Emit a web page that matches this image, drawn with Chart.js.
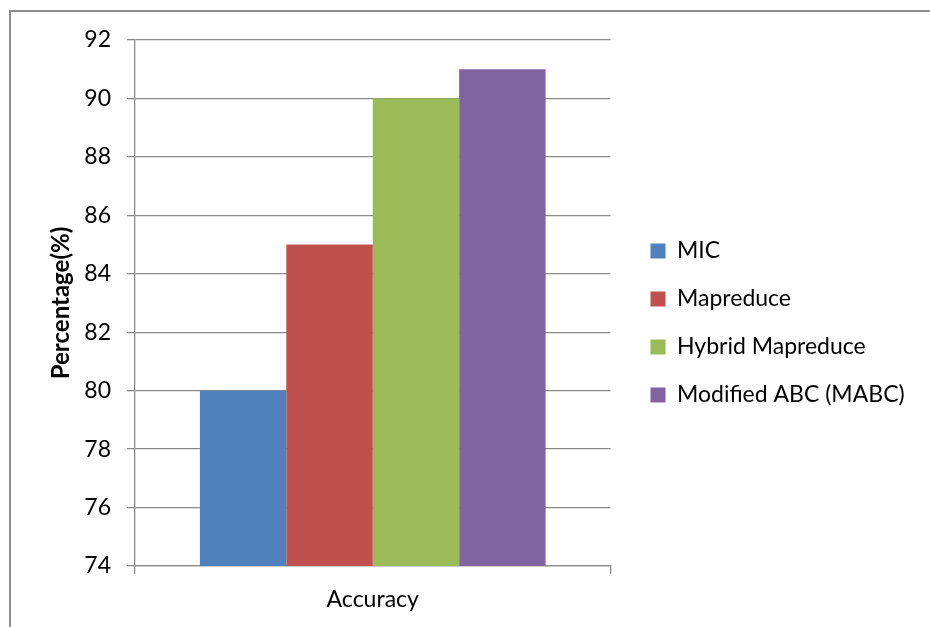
<!DOCTYPE html>
<html>
<head>
<meta charset="utf-8">
<script src="https://cdn.jsdelivr.net/npm/chart.js@4/dist/chart.umd.min.js"></script>
<style>
  html, body { margin: 0; padding: 0; background: #fff; }
  canvas { display: block; }
</style>
</head>
<body>
<canvas id="c" width="930" height="627"></canvas>
<script>
// Accuracy of each method (percentage)
const categories = ['Accuracy'];
const methods = ['MIC', 'Mapreduce', 'Hybrid Mapreduce', 'Modified ABC (MABC)'];
const accuracy = [80, 85, 90, 91];
const colors = ['#4F81BD', '#C0504D', '#9BBB59', '#8064A2'];
const yMin = 74, yMax = 92, yStep = 2;

const GRID = '#8a8a8a';
Chart.defaults.font.family = 'Lato, "Open Sans", sans-serif';
Chart.defaults.color = '#000';

// Outer frame of the figure
const framePlugin = {
  id: 'frame',
  beforeDraw(chart) {
    const ctx = chart.ctx;
    ctx.save();
    ctx.fillStyle = '#fff';
    ctx.fillRect(0, 0, chart.width, chart.height);
    ctx.strokeStyle = '#8e8e8e';
    ctx.lineWidth = 2;
    ctx.strokeRect(10, 11, chart.width + 20, chart.height + 20);
    ctx.restore();
  }
};

// Keep the legend a fixed gap to the right of the plot area
const legendGap = {
  id: 'legendGap',
  afterLayout(chart) {
    const lg = chart.legend;
    if (!lg) return;
    lg.left = chart.chartArea.right + 15;
    lg.right = chart.width;
    lg.width = lg.right - lg.left;
    lg.top -= 5;
    lg.bottom -= 5;
  }
};

new Chart(document.getElementById('c'), {
  type: 'bar',
  data: {
    labels: categories,
    datasets: methods.map((m, i) => ({
      label: m,
      data: [accuracy[i]],
      backgroundColor: colors[i],
      borderWidth: 0,
      categoryPercentage: 0.727,
      barPercentage: 1
    }))
  },
  options: {
    responsive: false,
    animation: false,
    layout: { padding: { top: 40, left: 0, right: 116, bottom: 11 } },
    plugins: {
      tooltip: { enabled: false },
      legend: {
        position: 'right',
        align: 'center',
        labels: {
          boxWidth: 15,
          boxHeight: 15,
          padding: 25,
          font: { size: 23 },
          color: '#000'
        }
      }
    },
    scales: {
      x: {
        grid: { drawOnChartArea: false, drawTicks: true, tickLength: 8, color: GRID, lineWidth: 1.3 },
        border: { display: true, color: GRID, width: 1.3 },
        ticks: { font: { size: 23 }, padding: 12, color: '#000' },
        afterFit(scale) { scale.height = 50; }
      },
      y: {
        min: yMin,
        max: yMax,
        ticks: { stepSize: yStep, font: { size: 23 }, padding: 16, color: '#000' },
        grid: { color: GRID, lineWidth: 1.3, tickLength: 8 },
        border: { display: true, color: GRID, width: 1.3 },
        title: {
          display: true,
          text: 'Percentage(%)',
          font: { size: 24, weight: 'bold' },
          color: '#000',
          padding: { top: 47, bottom: 0 }
        },
        afterFit(scale) { scale.width = 135; }
      }
    }
  },
  plugins: [framePlugin, legendGap]
});
</script>
</body>
</html>
